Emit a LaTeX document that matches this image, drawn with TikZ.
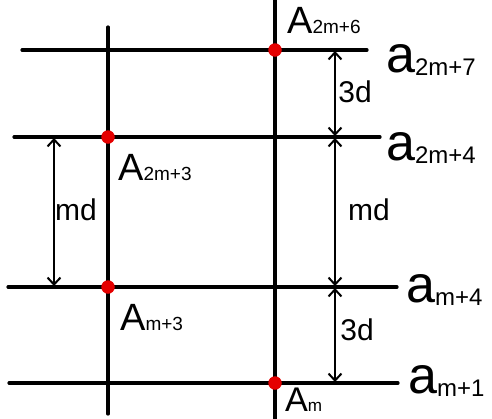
\documentclass[tikz,border=0pt]{standalone}
\usepackage{fontspec}
\setmainfont{Liberation Sans}
\usetikzlibrary{arrows.meta}
\newcommand\biga[1]{{\fontsize{52}{52}\selectfont a}{\fontsize{24}{24}\selectfont\raisebox{-3pt}{#1}}}
\newcommand\bigA[1]{{\fontsize{38}{38}\selectfont A}{\fontsize{19}{19}\selectfont #1}}
\begin{document}
\begin{tikzpicture}[x=1pt,y=-1pt,
  gridline/.style={line width=3.2pt, line cap=round},
  dim/.style={line width=2pt, shorten <=1pt, shorten >=1pt,
    {Straight Barb[length=7pt,width=13pt,line width=2pt]}-{Straight Barb[length=7pt,width=13pt,line width=2pt]}},
  reddot/.style={circle, fill=red!90!black, inner sep=0pt, minimum size=13.5pt},
  lab/.style={anchor=base west, inner sep=0pt},
  dimlab/.style={inner sep=0pt, font=\fontsize{30}{30}\selectfont}]
\useasboundingbox (0,0) rectangle (492,418);
% line ends
\coordinate (h1a) at (22,50);  \coordinate (h1b) at (367,50);
\coordinate (h2a) at (14,137); \coordinate (h2b) at (380,137);
\coordinate (h3a) at (8,287);  \coordinate (h3b) at (397,287);
\coordinate (h4a) at (9,383);  \coordinate (h4b) at (398,383);
\coordinate (v1a) at (108,27); \coordinate (v1b) at (108,414);
\coordinate (v2a) at (275,0);  \coordinate (v2b) at (275,420);
\draw[gridline] (h1a) -- (h1b);
\draw[gridline] (h2a) -- (h2b);
\draw[gridline] (h3a) -- (h3b);
\draw[gridline] (h4a) -- (h4b);
\draw[gridline] (v1a) -- (v1b);
\draw[gridline] (v2a) -- (v2b);
% dimension arrow ends
\coordinate (r1) at (335,50);
\coordinate (r2) at (335,137);
\coordinate (r3) at (335,287);
\coordinate (r4) at (335,383);
\coordinate (l1) at (54,137);
\coordinate (l2) at (54,287);
\draw[dim] (r1) -- (r2);
\draw[dim] (r2) -- (r3);
\draw[dim] (r3) -- (r4);
\draw[dim] (l1) -- (l2);
% dots
\node[reddot] (d1) at (275,50) {};
\node[reddot] (d2) at (108,137) {};
\node[reddot] (d3) at (108,287) {};
\node[reddot] (d4) at (275,383) {};
% labels
\node[lab] (A2m6) at (287,33) {\bigA{2m+6}};
\node[lab] (a2m7) at (386,72) {\biga{2m+7}};
\node[lab] (a2m4) at (386,160) {\biga{2m+4}};
\node[lab] (A2m3) at (118,180) {\bigA{2m+3}};
\node[lab] (am4) at (406,302) {\biga{m+4}};
\node[lab] (Am3) at (120,330) {\bigA{m+3}};
\node[lab] (am1) at (408,393) {\biga{m+1}};
\node[lab, scale=0.9] (Am) at (285,411) {\bigA{m}};
% dimension labels
\node[dimlab] (t1) at (355,92) {3d};
\node[dimlab] (t2) at (369,210) {md};
\node[dimlab] (t3) at (76,210) {md};
\node[dimlab] (t4) at (357,330) {3d};
\end{tikzpicture}
\end{document}
